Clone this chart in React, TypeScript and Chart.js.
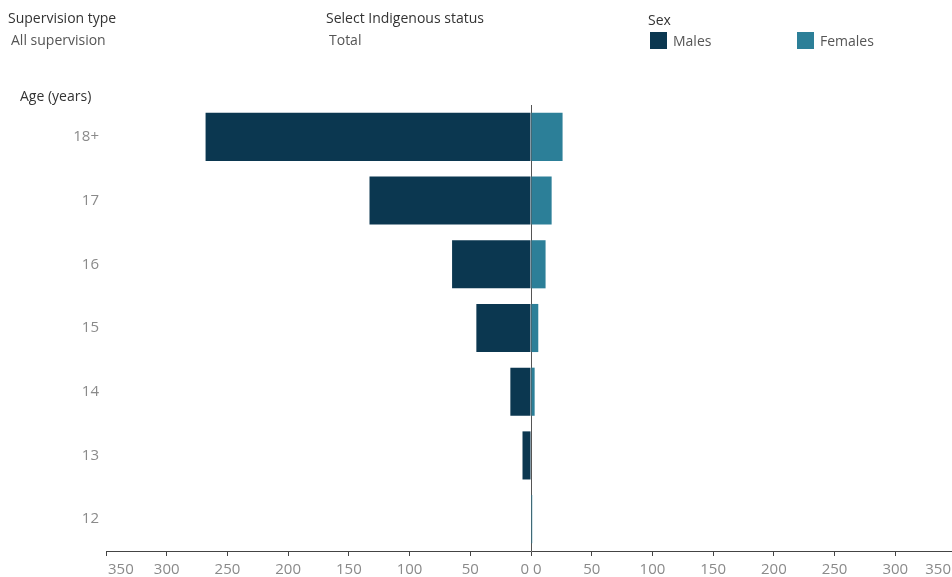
import React, { useEffect, useRef } from "react";
import { Chart, registerables } from "chart.js";

Chart.register(...registerables);

// ---- Data ----
const ageGroups: string[] = ["18+", "17", "16", "15", "14", "13", "12"];
const males: number[] = [268, 133, 65, 45, 17, 7, 0];
const females: number[] = [26, 17, 12, 6, 3, 0, 1];
const axisMax = 350;
const axisStep = 50;

const seriesNames = ["Males", "Females"];
const MALE_COLOR = "#0b3750";
const FEMALE_COLOR = "#2c7f98";
const VIEW_W = 952;
const VIEW_H = 577;
const CANVAS_W = 970;
const FONT = "'Open Sans', sans-serif";

const xLabelsPlugin = {
  id: "xLabelsPlugin",
  afterDraw(chart: any) {
    const scale = chart.scales.x;
    const ctx = chart.ctx;
    ctx.save();
    ctx.font = `15px ${FONT}`;
    ctx.fillStyle = "#8a8a8a";
    ctx.textBaseline = "middle";
    const y = scale.bottom + 14;
    scale.ticks.forEach((t: any) => {
      const v = t.value;
      const px = scale.getPixelForValue(v);
      const text = String(Math.abs(v));
      if (v === 0) {
        ctx.textAlign = "center";
        ctx.fillText("0 0", px, y);
      } else if (v === scale.min) {
        ctx.textAlign = "left";
        ctx.fillText(text, px + 2, y);
      } else if (v === scale.max) {
        ctx.textAlign = "right";
        ctx.fillText(text, VIEW_W - 1, y);
      } else {
        ctx.textAlign = "center";
        ctx.fillText(text, px, y);
      }
    });
    ctx.restore();
  },
};

function Label(props: { x: number; cy: number; text: string; size: number; color: string }) {
  const lh = 20;
  return (
    <div
      style={{
        position: "absolute",
        left: props.x,
        top: props.cy - lh / 2,
        height: lh,
        lineHeight: `${lh}px`,
        fontSize: props.size,
        color: props.color,
        whiteSpace: "nowrap",
        fontFamily: FONT,
      }}
    >
      {props.text}
    </div>
  );
}

function Swatch(props: { x: number; y: number; color: string }) {
  return (
    <div
      style={{
        position: "absolute",
        left: props.x,
        top: props.y,
        width: 17,
        height: 17,
        background: props.color,
      }}
    />
  );
}

export default function App() {
  const ref = useRef<HTMLCanvasElement | null>(null);

  useEffect(() => {
    if (!ref.current) return;
    const chart = new Chart(ref.current, {
      type: "bar",
      data: {
        labels: ageGroups,
        datasets: [
          {
            label: seriesNames[0],
            data: males.map((v) => -v),
            backgroundColor: MALE_COLOR,
            borderWidth: 0,
            barPercentage: 0.755,
            categoryPercentage: 1,
          },
          {
            label: seriesNames[1],
            data: females,
            backgroundColor: FEMALE_COLOR,
            borderWidth: 0,
            barPercentage: 0.755,
            categoryPercentage: 1,
          },
        ],
      },
      options: {
        indexAxis: "y",
        responsive: false,
        animation: false,
        devicePixelRatio: 1,
        layout: { padding: { left: 0, right: CANVAS_W - 956, top: 105, bottom: 21 } },
        plugins: {
          legend: { display: false },
          tooltip: { enabled: false },
        },
        scales: {
          x: {
            type: "linear",
            stacked: true,
            min: -axisMax,
            max: axisMax,
            z: 1,
            ticks: { display: false, stepSize: axisStep },
            grid: {
              display: true,
              drawOnChartArea: true,
              drawTicks: true,
              tickLength: 5,
              lineWidth: 1,
              color: (c: any) => (c.tick && c.tick.value === 0 ? "#555555" : "rgba(0,0,0,0)"),
              tickColor: "#444444",
            },
            border: { display: true, color: "#444444", width: 1 },
          },
          y: {
            type: "category",
            stacked: true,
            grid: { display: false, drawTicks: false },
            border: { display: false },
            ticks: {
              padding: 7,
              color: "#8a8a8a",
              font: { family: FONT, size: 15 },
            },
            afterFit: (scale: any) => {
              scale.width = 106;
            },
          },
        },
      },
      plugins: [xLabelsPlugin],
    } as any);
    return () => chart.destroy();
  }, []);

  return (
    <div
      style={{
        position: "fixed",
        left: 0,
        top: 0,
        width: VIEW_W,
        height: VIEW_H,
        overflow: "hidden",
        background: "#ffffff",
        fontFamily: FONT,
      }}
    >
      <canvas
        ref={ref}
        width={CANVAS_W}
        height={VIEW_H}
        style={{ position: "absolute", left: 0, top: 0, width: CANVAS_W, height: VIEW_H }}
      />
      <Label x={8} cy={18} text="Supervision type" size={14} color="#333333" />
      <Label x={11} cy={40} text="All supervision" size={14} color="#555555" />
      <Label x={326} cy={18} text="Select Indigenous status" size={14} color="#333333" />
      <Label x={329} cy={40} text="Total" size={14} color="#555555" />
      <Label x={648} cy={20} text="Sex" size={14} color="#333333" />
      <Swatch x={650} y={32} color={MALE_COLOR} />
      <Label x={673} cy={41} text={seriesNames[0]} size={14} color="#555555" />
      <Swatch x={797} y={32} color={FEMALE_COLOR} />
      <Label x={820} cy={41} text={seriesNames[1]} size={14} color="#555555" />
      <Label x={20} cy={96} text="Age (years)" size={14} color="#333333" />
    </div>
  );
}
